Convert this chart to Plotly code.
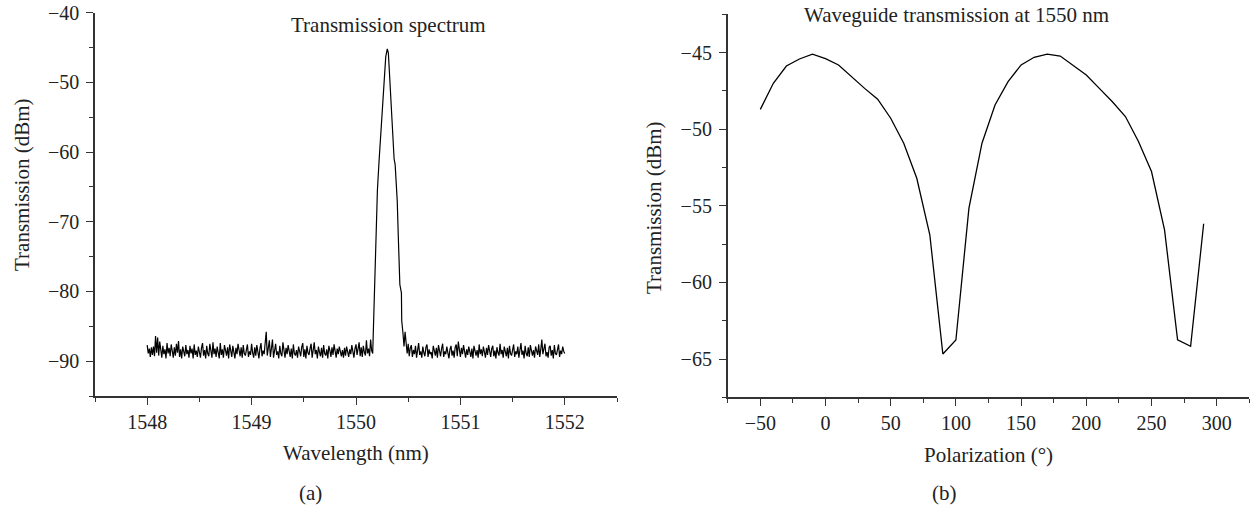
import plotly.graph_objects as go

# (a) transmission spectrum, baseline sampled every 0.01 nm
noise_left_start = 1548.00
noise_left_db = [
    -87.7, -88.9, -88.2, -89.4, -88.0, -89.1, -87.9, -89.3, -86.4, -88.8,
    -86.6, -89.2, -87.2, -88.5, -89.5, -87.8, -89.0, -88.3, -89.6, -87.4,
    -88.9, -88.1, -89.3, -87.6, -88.7, -89.5, -88.0, -89.2, -87.5, -88.8,
    -87.1, -89.4, -88.3, -89.6, -87.9, -88.6, -89.3, -87.7, -89.0, -88.4,
    -89.5, -87.8, -88.9, -88.2, -89.6, -87.6, -89.1, -88.5, -89.4, -87.9,
    -88.8, -89.5, -88.1, -87.4, -89.2, -88.4, -89.6, -87.8, -88.9, -89.3,
    -87.5, -88.6, -89.5, -87.3, -89.0, -88.2, -89.4, -87.9, -88.7, -89.6,
    -87.4, -89.1, -88.3, -89.5, -87.7, -88.8, -89.2, -88.0, -89.6, -87.6,
    -88.9, -89.4, -87.8, -88.5, -89.6, -88.1, -89.0, -87.5, -88.7, -89.3,
    -88.0, -89.5, -87.7, -88.9, -89.2, -88.3, -87.6, -89.4, -88.6, -89.1,
    -87.5, -88.8, -89.5, -88.0, -89.2, -87.7, -88.6, -89.6, -88.2, -87.4,
    -89.3, -88.5, -89.0, -87.6, -85.8, -89.2, -88.1, -87.0, -89.4, -88.3,
    -86.9, -89.5, -88.0, -87.5, -89.1, -88.6, -89.6, -87.8, -88.9, -89.3,
    -87.3, -88.7, -89.5, -88.1, -89.0, -87.7, -88.8, -89.4, -88.2, -89.6,
    -87.6, -88.9, -89.2, -88.4, -89.5, -87.9, -88.6, -89.3, -88.0, -87.4,
    -89.4, -88.3, -89.6, -87.8, -88.8, -89.1, -88.2, -87.5, -89.5, -88.6,
    -87.3, -89.0, -88.4, -89.6, -87.9, -88.7, -89.3, -88.1, -89.5, -87.7,
    -88.9, -89.2, -88.3, -89.6, -87.8, -88.5, -89.4, -88.0, -89.1, -87.6,
    -88.8, -89.5, -88.2, -89.0, -87.9, -88.6, -89.3, -88.4, -89.5, -88.1,
    -89.2, -87.9, -88.8, -89.4, -88.3, -89.0, -87.7, -88.9, -89.5, -88.2,
    -87.6, -89.1, -88.4, -87.3, -89.3, -88.0, -89.4, -87.8, -88.7, -89.2,
    -87.0, -88.9, -88.2, -89.3, -86.9, -88.5, -88.9,
]

peak_wl = [
    1550.165, 1550.175, 1550.185, 1550.195, 1550.205, 1550.22, 1550.24,
    1550.255, 1550.27, 1550.285, 1550.30, 1550.31, 1550.32, 1550.335,
    1550.35, 1550.365, 1550.375, 1550.385, 1550.395, 1550.405, 1550.42,
    1550.435, 1550.44, 1550.438, 1550.45, 1550.46, 1550.47,
]
peak_db = [
    -86.5, -81.0, -75.0, -69.5, -65.5, -61.5, -57.0,
    -52.5, -49.0, -46.3, -45.2, -45.8, -48.5, -53.0,
    -57.5, -61.0, -61.8, -64.5, -67.0, -72.0, -79.0,
    -80.2, -83.6, -84.2, -86.0, -87.9, -85.8,
]

noise_right_start = 1550.48
noise_right_db = [
    -87.2, -88.9, -87.5, -89.3, -88.1, -87.7, -89.4, -88.4, -89.0, -87.8,
    -89.5, -88.2, -87.4, -89.1, -88.6, -89.5, -87.9, -88.8, -89.3, -88.0,
    -87.6, -89.4, -88.3, -89.0, -88.7, -89.6, -87.8, -88.5, -89.2, -88.1,
    -89.5, -87.7, -88.9, -89.3, -88.2, -87.5, -89.4, -88.6, -89.0, -87.9,
    -88.8, -89.6, -88.3, -87.8, -89.2, -88.5, -89.5, -88.0, -87.6, -89.3,
    -87.2, -88.9, -89.4, -88.1, -89.0, -87.7, -88.6, -89.5, -88.3, -89.1,
    -87.9, -88.7, -89.4, -88.2, -89.6, -87.8, -88.8, -89.2, -88.4, -89.5,
    -87.6, -89.0, -88.3, -89.3, -87.9, -88.6, -89.5, -88.1, -89.1, -87.7,
    -88.9, -89.4, -88.2, -87.8, -89.3, -88.5, -89.6, -88.0, -88.8, -89.2,
    -87.5, -89.0, -88.4, -89.5, -87.9, -88.7, -89.3, -88.1, -89.6, -87.8,
    -88.9, -89.2, -88.3, -87.6, -89.4, -88.6, -89.0, -87.9, -89.5, -88.2,
    -87.4, -89.1, -88.5, -89.6, -87.8, -88.9, -89.3, -88.0, -89.4, -87.7,
    -88.8, -89.2, -88.4, -89.5, -87.9, -88.6, -89.1, -87.6, -89.4, -88.3,
    -86.9, -89.0, -88.2, -87.5, -89.3, -88.7, -89.5, -88.0, -87.8, -89.2,
    -88.4, -89.6, -87.7, -88.9, -89.1, -88.2, -87.6, -89.4, -88.5, -89.0,
    -87.9, -88.6, -88.9,
]
step = 0.01

# (b) waveguide transmission vs polarization angle
pol_deg = [-50, -40, -30, -20, -10, 0, 10, 20, 30, 40, 50, 60, 70, 80, 90, 100,
           110, 120, 130, 140, 150, 160, 170, 180, 190, 200, 210, 220, 230, 240,
           250, 260, 270, 280, 290]
pol_db = [-48.70, -47.0, -45.87, -45.41, -45.09, -45.39, -45.80, -46.57, -47.33,
          -48.04, -49.28, -50.91, -53.2, -56.89, -64.67, -63.76, -55.15, -50.91,
          -48.41, -46.89, -45.80, -45.30, -45.09, -45.22, -45.85, -46.46, -47.33,
          -48.2, -49.17, -50.80, -52.76, -56.57, -63.74, -64.17, -56.17]

wl_left = [round(noise_left_start + step * i, 3) for i in range(len(noise_left_db))]
wl_right = [round(noise_right_start + step * i, 3) for i in range(len(noise_right_db))]
spec_wl = wl_left + peak_wl + wl_right
spec_db = noise_left_db + peak_db + noise_right_db

W, H = 1250, 507
FONT = "Liberation Serif"
AX = "#333333"
TXT = "#222222"

fig = go.Figure()
fig.add_trace(go.Scatter(x=spec_wl, y=spec_db, mode="lines",
                         line=dict(color="black", width=1.2),
                         xaxis="x", yaxis="y", showlegend=False))
fig.add_trace(go.Scatter(x=pol_deg, y=pol_db, mode="lines",
                         line=dict(color="black", width=1.3),
                         xaxis="x2", yaxis="y2", showlegend=False))


def axis(rng, dtick, tick0, minor_dtick, domain, anchor, standoff=0):
    return dict(
        range=rng, domain=domain, anchor=anchor, automargin=False,
        dtick=dtick, tick0=tick0, tickmode="linear",
        showline=True, linecolor=AX, linewidth=1.6,
        ticks="outside", ticklen=7, tickwidth=1.4, tickcolor=AX,
        ticklabelstandoff=standoff,
        minor=dict(ticks="outside", ticklen=4, tickwidth=1.4, tickcolor=AX,
                   dtick=minor_dtick, tick0=tick0, showgrid=False),
        showgrid=False, zeroline=False,
        tickfont=dict(family=FONT, size=20, color=TXT),
    )


def px(x, y):
    return x / W, 1 - y / H


xd1 = [95 / W, 617 / W]
xd2 = [727.7 / W, 1249.3 / W]
yd1 = [1 - 396 / H, 1 - 12.7 / H]
yd2 = [1 - 397.3 / H, 1 - 14.4 / H]

fig.update_layout(
    width=W, height=H,
    margin=dict(l=0, r=0, t=0, b=0, autoexpand=False),
    paper_bgcolor="white", plot_bgcolor="white",
    xaxis=axis([1547.5, 1552.5], 1, 1548, 0.5, xd1, "y"),
    yaxis=axis([-95, -40], 10, -40, 5, yd1, "x", standoff=3),
    xaxis2=axis([-75, 325], 50, 0, 25, xd2, "y2"),
    yaxis2=axis([-67.5, -42.5], 5, -45, 2.5, yd2, "x2", standoff=3),
)

labels = [
    ("Transmission spectrum", 389, 25),
    ("Waveguide transmission at 1550 nm", 957, 15),
    ("Wavelength (nm)", 356, 453),
    ("Polarization (°)", 988.6, 455),
    ("(a)", 310, 493),
    ("(b)", 944, 493),
]
for text, x, y in labels:
    ax_, ay_ = px(x, y)
    fig.add_annotation(text=text, x=ax_, y=ay_, xref="paper", yref="paper",
                       showarrow=False, xanchor="center", yanchor="middle",
                       font=dict(family=FONT, size=21, color=TXT))

for x, y in [(22, 185), (654, 208)]:
    ax_, ay_ = px(x, y)
    fig.add_annotation(text="Transmission (dBm)", x=ax_, y=ay_,
                       xref="paper", yref="paper", showarrow=False,
                       textangle=-90, xanchor="center", yanchor="middle",
                       font=dict(family=FONT, size=21, color=TXT))

fig.write_html("out.html", config={"displayModeBar": False},
               post_script="document.body.style.margin='0';")
